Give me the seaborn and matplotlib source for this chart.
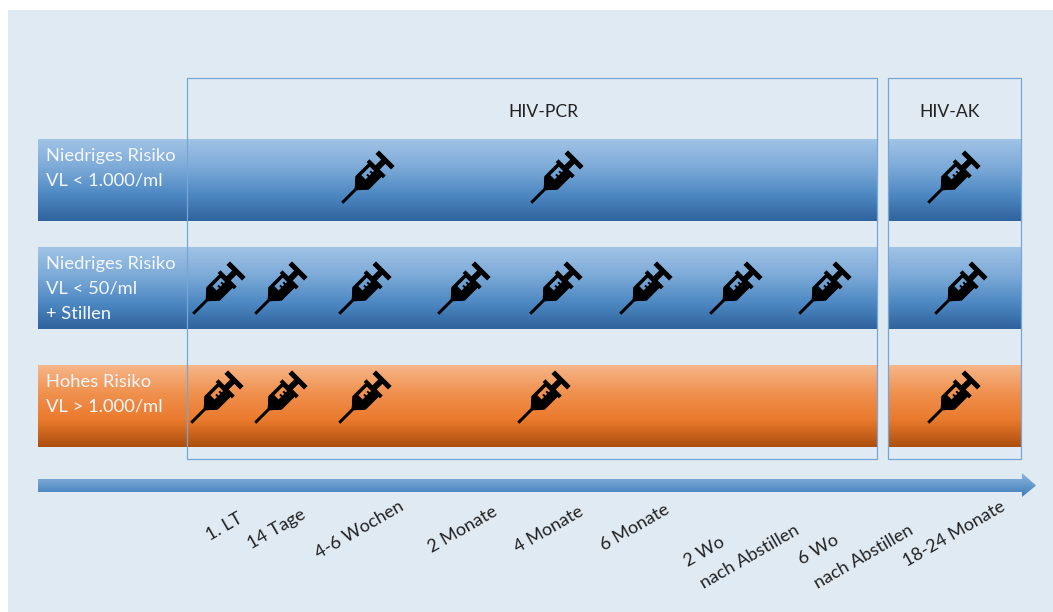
import numpy as np
import pandas as pd
import matplotlib
matplotlib.use("Agg")
import matplotlib.pyplot as plt
import seaborn as sns
from matplotlib.path import Path
from matplotlib.colors import LinearSegmentedColormap
from matplotlib.patches import Rectangle, Polygon

row_labels = [["Niedriges Risiko", "VL < 1.000/ml"], ["Niedriges Risiko", "VL < 50/ml", "+ Stillen"], ["Hohes Risiko", "VL > 1.000/ml"]]
row1_x = [367, 556, 953]
row2_x = [218, 280, 364, 463, 555, 645, 735, 824, 960]
row3_x = [216, 280, 364, 543, 953]
row_top = [139, 247, 365]
row_height = 82
row_centers = [178, 289, 398]
tick_labels = ["1. LT", "14 Tage", "4-6 Wochen", "2 Monate", "4 Monate", "6 Monate",
               "2 Wo", "nach Abstillen", "6 Wo", "nach Abstillen", "18-24 Monate"]
tick_x = [224, 277, 359, 463, 549, 635, 704, 750, 818, 864, 954]
tick_y = [527, 529, 530, 529, 529, 527, 552, 557, 550, 557, 534]

blue_grad = ["#a0c3e6", "#7eabd8", "#4f8ac4", "#2f639d"]
orange_grad = ["#f6b689", "#f0914f", "#ea7a2d", "#ad4f0e"]

sns.set_theme(style="white")
plt.rcParams["font.family"] = ["Lato", "DejaVu Sans"]
fig = plt.figure(figsize=(10.53, 6.12), dpi=100, facecolor="white")
ax = fig.add_axes([0, 0, 1, 1])

ax.add_patch(Rectangle((8, 10), 1045, 602, fc="#dfeaf3", ec="none", zorder=0))

blue_cm = LinearSegmentedColormap.from_list("b", blue_grad)
orange_cm = LinearSegmentedColormap.from_list("o", orange_grad)
grad = np.linspace(0, 1, 128).reshape(-1, 1)
for top, cm in zip(row_top, [blue_cm, blue_cm, orange_cm]):
    for x0, x1 in [(38, 877), (888, 1021)]:
        ax.imshow(grad, cmap=cm, extent=(x0, x1, top + row_height, top), aspect="auto", zorder=1, interpolation="bilinear")

# Frames
for x0, x1 in [(187, 877), (888, 1020.5)]:
    ax.add_patch(Rectangle((x0, 78), x1 - x0, 381, fc="none", ec="#76a6d6", lw=0.9, zorder=2))

# Arrow
arrow_grad = LinearSegmentedColormap.from_list("a", ["#8db6de", "#3f7cbb"])
im = ax.imshow(grad, cmap=arrow_grad, extent=(38, 1036, 497, 473), aspect="auto", zorder=2)
clip = Polygon([(38, 479), (1022, 479), (1022, 473), (1036, 485.5), (1022, 497), (1022, 492), (38, 492)],
               transform=ax.transData, fc="none", ec="none")
ax.add_patch(clip)
im.set_clip_path(clip)

# Syringe marker, drawn along its axis and turned 45 degrees
def syringe():
    outline = [(-35, 1.5), (-16, 1.5), (-13, 4), (-10, 7), (-7, 9.5), (11, 9.5), (11, 11.5), (15, 11.5), (15, 3),
               (23, 3), (23, 11), (28, 11), (28, -11), (23, -11), (23, -3), (15, -3), (15, -11.5),
               (11, -11.5), (11, -9.5), (-7, -9.5), (-10, -7), (-13, -4), (-16, -1.5), (-35, -1.5), (-35, 1.5)]
    window = [(-2, 6), (10, 6), (10, 0), (8, 0), (8, 2.5), (6, 2.5), (6, 0), (3.5, 0), (3.5, 2.5), (1.5, 2.5),
              (1.5, 0), (-2, 0), (-2, 6)]
    window = window[::-1]
    verts = outline + window
    codes = ([Path.MOVETO] + [Path.LINETO] * (len(outline) - 2) + [Path.CLOSEPOLY] +
             [Path.MOVETO] + [Path.LINETO] * (len(window) - 2) + [Path.CLOSEPOLY])
    a = np.deg2rad(45)
    R = np.array([[np.cos(a), -np.sin(a)], [np.sin(a), np.cos(a)]])
    return Path(np.array(verts) @ R.T, codes)

marker = syringe()
df = pd.DataFrame({
    "x": row1_x + row2_x + row3_x,
    "y": [row_centers[0]] * len(row1_x) + [row_centers[1]] * len(row2_x) + [row_centers[2]] * len(row3_x),
})
half = np.abs(marker.vertices).max()
size_pt = 2 * half * 0.72
sns.scatterplot(data=df, x="x", y="y", marker=marker, s=size_pt ** 2, color="black",
                edgecolor="none", linewidth=0, ax=ax, zorder=3, legend=False)
ax.set_xlim(0, 1053)
ax.set_ylim(612, 0)
ax.axis("off")

# Row labels
for top, lines in zip(row_top, row_labels):
    for i, line in enumerate(lines):
        ax.text(46.5, top + 17 + i * 25, line, color="#f4f7fb", fontsize=13.2, va="center", ha="left", zorder=4)

ax.text(543, 112, "HIV-PCR", color="#222222", fontsize=12.6, ha="center", va="center", zorder=4)
ax.text(950, 112, "HIV-AK", color="#222222", fontsize=12.6, ha="center", va="center", zorder=4)

for x, y, label in zip(tick_x, tick_y, tick_labels):
    ax.text(x, y, label, color="#222222", fontsize=13, rotation=30, rotation_mode="anchor",
            ha="center", va="center", zorder=4)

fig.savefig("out.png", dpi=100, facecolor="white")
